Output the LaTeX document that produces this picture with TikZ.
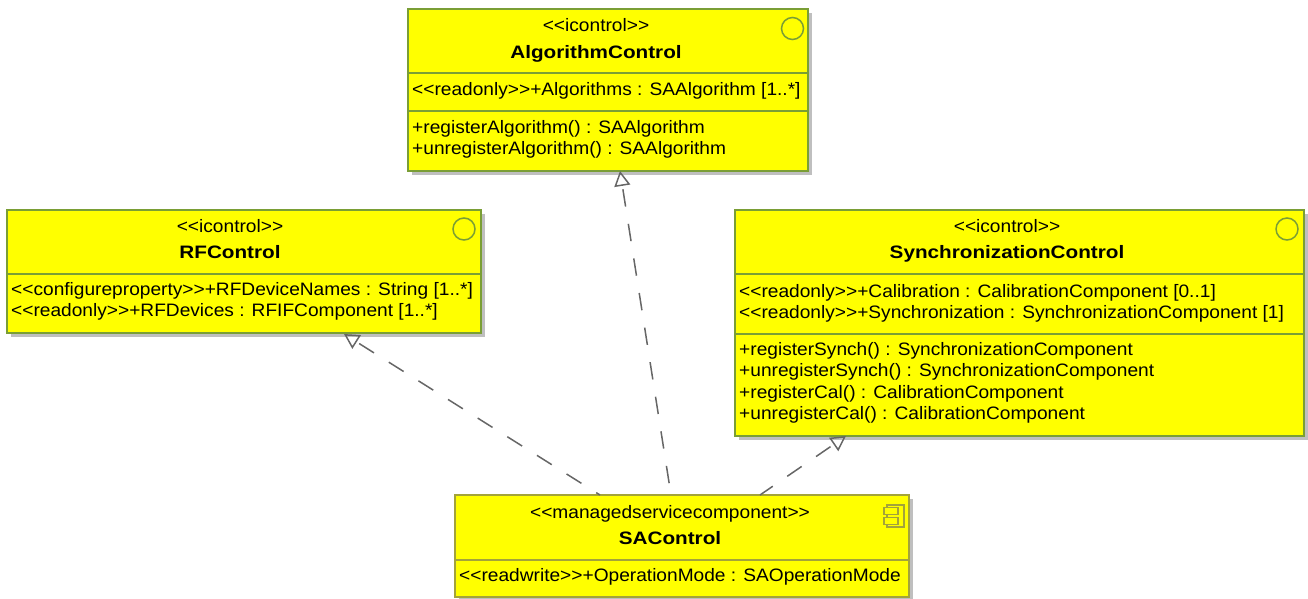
\documentclass[tikz,border=0pt]{standalone}
\usepackage{fontspec}
\setmainfont[FakeStretch=1.063, BoldFeatures={FakeStretch=1.15}]{Liberation Sans}
\usetikzlibrary{arrows.meta,shadows}
\definecolor{boxfill}{HTML}{FFFF00}
\definecolor{boxline}{HTML}{7A9E35}
\definecolor{saline}{HTML}{A3A33A}
\definecolor{linkgray}{HTML}{666666}
\tikzset{
	umlbox/.style={draw=boxline, fill=boxfill, line width=1.5pt, inner sep=0pt, drop shadow={shadow xshift=4pt, shadow yshift=-4pt, fill=gray!50, opacity=1}},
	umltext/.style={inner sep=0pt, align=left, anchor=north west, font=\fontsize{18}{21.5}\selectfont},
	umlhead/.style={inner sep=0pt, font=\fontsize{18}{21.5}\selectfont},
	umlname/.style={inner sep=0pt, font=\fontsize{18}{21.5}\selectfont\bfseries},
	umlicon/.style={draw=boxline, circle, line width=1.5pt, minimum size=22pt, inner sep=0pt},
	umlglyph/.style={draw=saline, fill=boxfill, line width=1.5pt, minimum width=14pt, minimum height=7pt, inner sep=0pt},
	realizes/.style={draw=linkgray, line width=1.5pt, dash pattern=on 17.5pt off 17.5pt, -{Triangle[open, length=15pt, width=16pt]}},
}
\begin{document}
\begin{tikzpicture}[x=1pt, y=-1pt]
	\useasboundingbox (0, 0) rectangle (1308, 598);

	\node[umlbox, minimum width=400pt, minimum height=162pt] (AlgorithmControl) at (608, 90) {};
	\node[umlbox, minimum width=474pt, minimum height=123pt] (RFControl) at (244, 271.5) {};
	\node[umlbox, minimum width=569pt, minimum height=226pt] (SynchControl) at (1019.5, 323) {};
	\node[umlbox, draw=saline, minimum width=454pt, minimum height=102pt] (SAControl) at (682, 546) {};

	% compartment lines
	\draw[boxline, line width=1.5pt] (AlgorithmControl.west |- 0, 73) -- (AlgorithmControl.east |- 0, 73);
	\draw[boxline, line width=1.5pt] (AlgorithmControl.west |- 0, 111) -- (AlgorithmControl.east |- 0, 111);
	\draw[boxline, line width=1.5pt] (RFControl.west |- 0, 274) -- (RFControl.east |- 0, 274);
	\draw[boxline, line width=1.5pt] (SynchControl.west |- 0, 274) -- (SynchControl.east |- 0, 274);
	\draw[boxline, line width=1.5pt] (SynchControl.west |- 0, 334) -- (SynchControl.east |- 0, 334);
	\draw[saline, line width=1.5pt] (SAControl.west |- 0, 560) -- (SAControl.east |- 0, 560);

	\node[umlhead] (AlgorithmHead) at (596, 25) {<{}<icontrol>{}>};
	\node[umlname] (AlgorithmName) at (596, 54) {AlgorithmControl};
	\node[umltext] (AlgorithmAttr) at (412, 82) {<{}<readonly>{}>+Algorithms : SAAlgorithm [1..*]};
	\node[umltext] (AlgorithmOper) at (412, 120) {+registerAlgorithm() : SAAlgorithm\\+unregisterAlgorithm() : SAAlgorithm};

	\node[umlhead] (RFHead) at (230, 226) {<{}<icontrol>{}>};
	\node[umlname] (RFName) at (230, 252) {RFControl};
	\node[umltext] (RFAttr) at (11, 282) {<{}<configureproperty>{}>+RFDeviceNames : String [1..*]\\<{}<readonly>{}>+RFDevices : RFIFComponent [1..*]};

	\node[umlhead] (SynchHead) at (1007, 226) {<{}<icontrol>{}>};
	\node[umlname] (SynchName) at (1007, 254) {SynchronizationControl};
	\node[umltext] (SynchAttr) at (739, 284) {<{}<readonly>{}>+Calibration : CalibrationComponent [0..1]\\<{}<readonly>{}>+Synchronization : SynchronizationComponent [1]};
	\node[umltext] (SynchOper) at (739, 342) {+registerSynch() : SynchronizationComponent\\+unregisterSynch() : SynchronizationComponent\\+registerCal() : CalibrationComponent\\+unregisterCal() : CalibrationComponent};

	\node[umlhead] (SAHead) at (670, 513.5) {<{}<managedservicecomponent>{}>};
	\node[umlname] (SAName) at (670, 538) {SAControl};
	\node[umltext] (SAAttr) at (459, 568) {<{}<readwrite>{}>+OperationMode : SAOperationMode};

	\node[umlicon] (AlgorithmIcon) at (792.5, 28.5) {};
	\node[umlicon] (RFIcon) at (464, 229) {};
	\node[umlicon] (SynchIcon) at (1287, 229) {};

	% component glyph
	\node[draw=saline, line width=1.5pt, minimum width=17pt, minimum height=22pt, inner sep=0pt] (SAIcon) at (895.5, 516) {};
	\node[umlglyph] (SAIconA) at (891, 511) {};
	\node[umlglyph] (SAIconB) at (891, 521) {};

	\coordinate (SAtoRF) at (600, 495);
	\coordinate (SAtoAlgorithm) at (671, 495);
	\coordinate (SAtoSynch) at (760, 495);
	\coordinate (RFEnd) at (344, 334);
	\coordinate (AlgorithmEnd) at (620, 171);
	\coordinate (SynchEnd) at (846, 436);

	\draw[realizes, dash phase=13pt] (SAtoRF) to (RFEnd);
	\draw[realizes, dash phase=23pt] (SAtoAlgorithm) to (AlgorithmEnd);
	\draw[realizes, dash phase=2pt] (SAtoSynch) to (SynchEnd);
\end{tikzpicture}
\end{document}
